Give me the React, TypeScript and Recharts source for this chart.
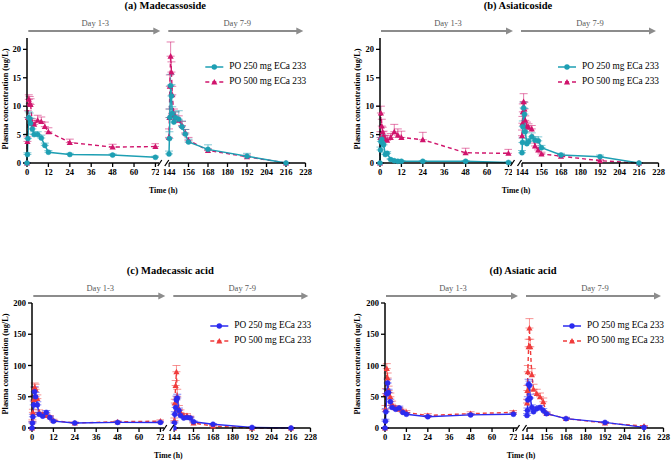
import { LineChart, Line, XAxis, YAxis, ErrorBar } from "recharts"

const day1Hours = [0, 0.25, 0.5, 1, 1.5, 2, 3, 4, 6, 8, 10, 12, 24, 48, 72]
const day7Hours = [144, 144.25, 144.5, 145, 145.5, 146, 147, 148, 150, 152, 154, 156, 168, 192, 216]
const day1Ticks = [0, 12, 24, 36, 48, 60, 72]
const day7Ticks = [144, 156, 168, 180, 192, 204, 216, 228]
const glycosideTicks = [0, 5, 10, 15, 20]
const acidTicks = [0, 50, 100, 150, 200]
const doseLabels = ["PO 250 mg ECa 233", "PO 500 mg ECa 233"]
const periodLabels = ["Day 1-3", "Day 7-9"]

// first 15 values = day 1-3, last 15 = day 7-9
const madecassoside250 = [0, 1.5, 4.3, 8.0, 7.8, 7.0, 6.0, 5.0, 5.0, 4.4, 3.1, 1.9, 1.5, 1.4, 1.0,
  1.6, 4.3, 8.0, 13.6, 11.8, 8.7, 7.2, 8.0, 7.7, 6.4, 5.1, 3.7, 2.4, 1.2, 0]
const madecassoside250Sd = [0, 0.3, 0.8, 1.0, 1.0, 0.9, 0.7, 0.5, 0.5, 0.5, 0.4, 0.3, 0.2, 0.2, 0.2,
  0.5, 1.2, 1.5, 2.0, 2.0, 1.2, 1.0, 1.0, 1.5, 1.0, 0.8, 0.5, 0.8, 0.5, 0]
const madecassoside500 = [0, 3.8, 8.0, 11.2, 10.5, 10.3, 7.0, 6.8, 7.5, 7.3, 6.4, 5.5, 3.6, 2.8, 2.9,
  4.5, 8.0, 13.5, 18.8, 16.0, 12.0, 8.5, 8.0, 7.5, 6.6, 5.3, 4.0, 2.2, 1.1, 0]
const madecassoside500Sd = [0, 0.8, 1.2, 0.8, 1.2, 1.0, 0.8, 0.7, 0.9, 0.8, 0.8, 0.7, 0.6, 0.5, 0.5,
  1.5, 1.5, 2.0, 2.5, 1.8, 1.5, 1.0, 1.0, 0.8, 0.7, 0.6, 0.5, 0.3, 0.3, 0]

const asiaticoside250 = [0, 2.3, 3.8, 4.2, 3.5, 3.2, 1.5, 1.7, 0.6, 0.4, 0.3, 0.3, 0.3, 0.3, 0.1,
  1.8, 3.6, 6.4, 9.7, 8.6, 5.5, 3.4, 3.8, 4.6, 4.0, 3.9, 2.7, 1.4, 1.1, 0]
const asiaticoside250Sd = [0, 0.5, 0.7, 0.8, 0.6, 0.5, 0.3, 0.3, 0.2, 0.1, 0.1, 0.1, 0.1, 0.1, 0.1,
  0.4, 0.8, 1.0, 1.0, 1.0, 0.8, 0.5, 0.5, 0.7, 0.6, 0.7, 0.4, 0.3, 0.3, 0]
const asiaticoside500 = [0, 4.5, 8.8, 6.5, 5.5, 4.8, 4.2, 4.0, 4.5, 5.5, 4.9, 4.5, 4.1, 1.8, 1.7,
  4.8, 7.0, 9.0, 10.8, 9.5, 7.5, 6.5, 6.3, 6.0, 3.0, 2.3, 1.6, 1.2, 0.4, 0]
const asiaticoside500Sd = [0, 1.0, 1.2, 1.2, 0.8, 0.8, 0.7, 0.8, 0.7, 1.3, 1.1, 1.1, 1.3, 0.8, 0.7,
  1.0, 1.2, 1.4, 1.4, 1.2, 0.8, 0.7, 0.6, 0.6, 0.5, 0.4, 0.3, 0.3, 0.2, 0]

const madecassicAcid250 = [0, 8, 18, 37, 58, 50, 37, 22, 19, 25, 17, 11, 8, 9, 9,
  0, 8, 22, 33, 45, 48, 28, 20, 16, 17, 16, 10, 6, 1, 0]
const madecassicAcid250Sd = [0, 2, 4, 6, 8, 7, 5, 3, 3, 3, 2, 1.5, 1, 1, 1,
  0, 2, 4, 5, 6, 6, 4, 3, 2, 2, 2, 1.5, 1, 0.5, 0]
const madecassicAcid500 = [0, 10, 25, 45, 65, 62, 47, 25, 22, 20, 18, 12, 8, 10, 11,
  0, 12, 40, 68, 90, 50, 30, 25, 20, 20, 17, 8, 3, 0, 0]
const madecassicAcid500Sd = [0, 3, 5, 7, 7, 8, 6, 4, 3, 3, 2, 2, 1.5, 1.5, 2,
  0, 4, 6, 8, 10, 12, 6, 4, 3, 3, 2, 1.5, 1, 0.5, 0]

const asiaticAcid250 = [0, 11, 26, 55, 72, 57, 42, 33, 30, 32, 25, 22, 18, 21, 22,
  20, 28, 45, 70, 68, 48, 33, 26, 31, 33, 28, 23, 15, 9, 1]
const asiaticAcid250Sd = [0, 3, 5, 7, 6, 5, 4, 3, 3, 3, 2, 2, 2, 2, 2,
  3, 4, 5, 8, 7, 6, 4, 3, 3, 3, 3, 2, 2, 1, 0.5]
const asiaticAcid500 = [0, 30, 55, 95, 80, 60, 50, 38, 32, 30, 27, 25, 20, 23, 25,
  40, 60, 90, 130, 160, 130, 85, 62, 55, 50, 42, 23, 15, 8, 3]
const asiaticAcid500Sd = [0, 6, 8, 8, 8, 7, 6, 5, 4, 3, 3, 3, 3, 3, 3,
  6, 8, 10, 12, 15, 12, 10, 8, 7, 6, 6, 3, 2, 1, 1]

const FONT = '"Liberation Serif", "Times New Roman", serif'
const PLOT_H = 125
const M_TOP = 6
const X_H = 24
const Y_W = 30
const SEG1_W = 132 // 0..74 h
const SEG2_X = 141.5 // offset of 144 h from y axis
const SEG2_W = 136.5 // 144..228 h

type Row = { t: number; lo: number; loSd: number[]; hi: number; hiSd: number[] }

function buildRows(hours: number[], offset: number, lo: number[], loSd: number[], hi: number[], hiSd: number[]): Row[] {
  return hours.map((t, i) => ({
    t,
    lo: lo[offset + i],
    loSd: [0, loSd[offset + i]],
    hi: hi[offset + i],
    hiSd: [0, hiSd[offset + i]],
  }))
}

function triangleDot(color: string) {
  return (p: any) => {
    const { cx, cy, index } = p
    if (cx == null || cy == null) return <g key={`tri-${index}`} />
    const s = 3.1
    return (
      <polygon
        key={`tri-${index}`}
        points={`${cx},${cy - s} ${cx - s},${cy + s * 0.8} ${cx + s},${cy + s * 0.8}`}
        fill={color}
      />
    )
  }
}

interface PanelProps {
  title: string
  ox: number
  oy: number
  yMax: number
  yTicks: number[]
  lo: number[]
  loSd: number[]
  hi: number[]
  hiSd: number[]
  loColor: string
  hiColor: string
  legendDy: number
  yLabelX: number
}

const tickStyle = { fontSize: 8.5, fontWeight: 700, fill: "#000", fontFamily: FONT }
const axisLine = { stroke: "#000", strokeWidth: 1.5 }
const tickLine = { stroke: "#000", strokeWidth: 1.3 }

function segmentLines(loColor: string, hiColor: string) {
  return [
    <Line
      key="hi"
      type="linear"
      dataKey="hi"
      stroke={hiColor}
      strokeWidth={1.4}
      strokeDasharray="4 3"
      dot={triangleDot(hiColor)}
      isAnimationActive={false}
    >
      <ErrorBar dataKey="hiSd" direction="y" width={4} stroke={hiColor} strokeOpacity={0.55} strokeWidth={1} isAnimationActive={false} />
    </Line>,
    <Line
      key="lo"
      type="linear"
      dataKey="lo"
      stroke={loColor}
      strokeWidth={1.5}
      dot={{ r: 2.5, fill: loColor, stroke: loColor, strokeWidth: 0.5 }}
      isAnimationActive={false}
    >
      <ErrorBar dataKey="loSd" direction="y" width={4} stroke={loColor} strokeOpacity={0.55} strokeWidth={1} isAnimationActive={false} />
    </Line>,
  ]
}

function Panel(p: PanelProps) {
  const day1 = buildRows(day1Hours, 0, p.lo, p.loSd, p.hi, p.hiSd)
  const day7 = buildRows(day7Hours, 15, p.lo, p.loSd, p.hi, p.hiSd)
  const chartH = M_TOP + PLOT_H + X_H
  return (
    <>
      <div style={{ position: "absolute", left: p.ox - Y_W, top: p.oy - M_TOP }}>
        <LineChart width={Y_W + SEG1_W} height={chartH} data={day1} margin={{ top: M_TOP, right: 0, bottom: 0, left: 0 }}>
          <XAxis
            type="number"
            dataKey="t"
            domain={[0, 74]}
            ticks={day1Ticks}
            interval={0}
            height={X_H}
            tickSize={4}
            tickMargin={2}
            tick={tickStyle}
            axisLine={axisLine}
            tickLine={tickLine}
          />
          <YAxis
            type="number"
            domain={[0, p.yMax]}
            ticks={p.yTicks}
            interval={0}
            width={Y_W}
            tickSize={4}
            tickMargin={2}
            tick={tickStyle}
            axisLine={axisLine}
            tickLine={tickLine}
          />
          {segmentLines(p.loColor, p.hiColor)}
        </LineChart>
      </div>
      <div style={{ position: "absolute", left: p.ox + SEG2_X - 6, top: p.oy - M_TOP }}>
        <LineChart width={6 + SEG2_W + 8} height={chartH} data={day7} margin={{ top: M_TOP, right: 8, bottom: 0, left: 6 }}>
          <XAxis
            type="number"
            dataKey="t"
            domain={[144, 228]}
            ticks={day7Ticks}
            interval={0}
            height={X_H}
            tickSize={4}
            tickMargin={2}
            tick={tickStyle}
            axisLine={axisLine}
            tickLine={tickLine}
          />
          <YAxis hide type="number" domain={[0, p.yMax]} />
          {segmentLines(p.loColor, p.hiColor)}
        </LineChart>
      </div>
    </>
  )
}

function PanelDecor(p: PanelProps) {
  const { ox, oy } = p
  const y0 = oy + PLOT_H
  const arrowY = oy - 7
  const grey = "#8c8c8c"
  const arrow = (x1: number, x2: number, key: string) => (
    <g key={key}>
      <line x1={x1} y1={arrowY} x2={x2 - 5} y2={arrowY} stroke={grey} strokeWidth={2} />
      <polygon points={`${x2},${arrowY} ${x2 - 7},${arrowY - 3.5} ${x2 - 7},${arrowY + 3.5}`} fill={grey} />
    </g>
  )
  const ly = oy + p.legendDy
  return (
    <g fontFamily={FONT}>
      <text x={ox + 138} y={oy - 31} textAnchor="middle" dominantBaseline="middle" fontSize={10.5} fontWeight={700}>
        {p.title}
      </text>
      <text x={ox + 68} y={oy - 14} textAnchor="middle" dominantBaseline="middle" fontSize={8.5} fill="#5a5a5a">
        {periodLabels[0]}
      </text>
      <text x={ox + 210} y={oy - 14} textAnchor="middle" dominantBaseline="middle" fontSize={8.5} fill="#5a5a5a">
        {periodLabels[1]}
      </text>
      {arrow(ox + 1, ox + 133, "a1")}
      {arrow(ox + 141, ox + 276, "a2")}
      <rect x={ox + 132.5} y={y0 - 4} width={8.5} height={8} fill="#fff" />
      <line x1={ox + 130.5} y1={y0 + 3} x2={ox + 134.5} y2={y0 - 3} stroke="#000" strokeWidth={1.3} />
      <line x1={ox + 137.5} y1={y0 + 3} x2={ox + 141.5} y2={y0 - 3} stroke="#000" strokeWidth={1.3} />
      <text x={ox + 136} y={oy + 153} textAnchor="middle" dominantBaseline="middle" fontSize={7.8} fontWeight={700}>
        Time (h)
      </text>
      <text
        x={p.yLabelX}
        y={oy + 61}
        transform={`rotate(-90 ${p.yLabelX} ${oy + 61})`}
        textAnchor="middle"
        dominantBaseline="middle"
        fontSize={8.3}
        fontWeight={700}
      >
        Plasma concentration (ug/L)
      </text>
      <line x1={ox + 178} y1={ly} x2={ox + 196} y2={ly} stroke={p.loColor} strokeWidth={1.5} />
      <circle cx={ox + 187} cy={ly} r={2.7} fill={p.loColor} />
      <text x={ox + 202} y={ly} dominantBaseline="middle" fontSize={9.3}>
        {doseLabels[0]}
      </text>
      <line x1={ox + 178} y1={ly + 15} x2={ox + 196} y2={ly + 15} stroke={p.hiColor} strokeWidth={1.4} strokeDasharray="4 3" />
      <polygon points={`${ox + 187},${ly + 15 - 3.1} ${ox + 183.9},${ly + 15 + 2.5} ${ox + 190.1},${ly + 15 + 2.5}`} fill={p.hiColor} />
      <text x={ox + 202} y={ly + 15} dominantBaseline="middle" fontSize={9.3}>
        {doseLabels[1]}
      </text>
    </g>
  )
}

const panels: PanelProps[] = [
  {
    title: "(a) Madecassoside", ox: 27.3, oy: 38, yMax: 22, yTicks: glycosideTicks,
    lo: madecassoside250, loSd: madecassoside250Sd, hi: madecassoside500, hiSd: madecassoside500Sd,
    loColor: "#1e9fb3", hiColor: "#d0146c", legendDy: 29, yLabelX: 6,
  },
  {
    title: "(b) Asiaticoside", ox: 380, oy: 38, yMax: 22, yTicks: glycosideTicks,
    lo: asiaticoside250, loSd: asiaticoside250Sd, hi: asiaticoside500, hiSd: asiaticoside500Sd,
    loColor: "#1e9fb3", hiColor: "#d0146c", legendDy: 29, yLabelX: 358,
  },
  {
    title: "(c) Madecassic acid", ox: 32.3, oy: 303, yMax: 200, yTicks: acidTicks,
    lo: madecassicAcid250, loSd: madecassicAcid250Sd, hi: madecassicAcid500, hiSd: madecassicAcid500Sd,
    loColor: "#2b2bef", hiColor: "#f03c3c", legendDy: 23, yLabelX: 6,
  },
  {
    title: "(d) Asiatic acid", ox: 385, oy: 303, yMax: 200, yTicks: acidTicks,
    lo: asiaticAcid250, loSd: asiaticAcid250Sd, hi: asiaticAcid500, hiSd: asiaticAcid500Sd,
    loColor: "#2b2bef", hiColor: "#f03c3c", legendDy: 23, yLabelX: 358,
  },
]

export default function App() {
  return (
    <div style={{ position: "absolute", left: 0, top: 0, width: 671, height: 462, background: "#fff", overflow: "hidden" }}>
      {panels.map((p) => (
        <Panel key={p.title} {...p} />
      ))}
      <svg width={671} height={462} style={{ position: "absolute", left: 0, top: 0, pointerEvents: "none" }}>
        {panels.map((p) => (
          <PanelDecor key={p.title} {...p} />
        ))}
      </svg>
    </div>
  )
}
